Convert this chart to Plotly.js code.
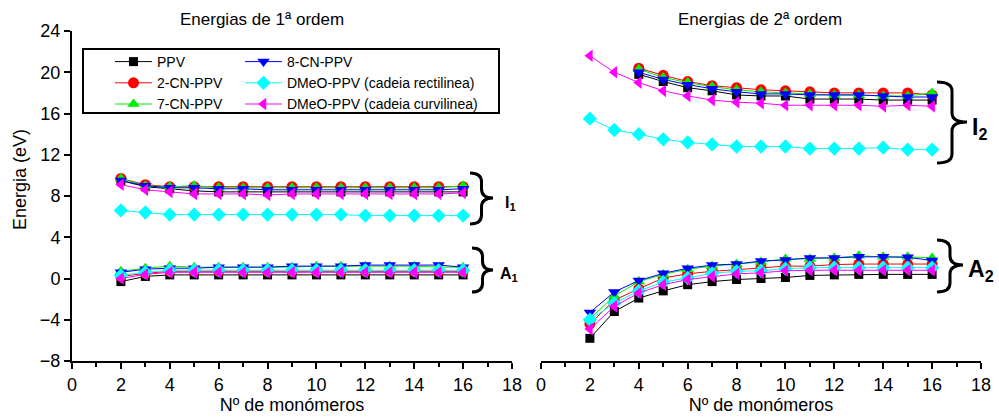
<!DOCTYPE html>
<html>
<head>
<meta charset="utf-8">
<script src="https://cdn.plot.ly/plotly-3.0.1.min.js"></script>
<style>html,body{margin:0;padding:0;background:#fff;}#chart{width:999px;height:417px;}</style>
</head>
<body>
<div id="chart"></div>
<script>
// ---- data ----
const monomers = [2,3,4,5,6,7,8,9,10,11,12,13,14,15,16];
const monomersFrom4 = [4,5,6,7,8,9,10,11,12,13,14,15,16];

const seriesNames = ["PPV","2-CN-PPV","7-CN-PPV","8-CN-PPV","DMeO-PPV (cadeia rectilinea)","DMeO-PPV (cadeia curvilinea)"];

// 1st order: ionization (I1) and affinity (A1)
const ppv_I1   = [9.5,8.9,8.7,8.5,8.4,8.4,8.4,8.4,8.4,8.4,8.4,8.4,8.4,8.4,8.4];
const cn2_I1   = [9.7,9.1,8.9,8.9,8.9,8.9,8.9,8.9,8.9,8.9,8.9,8.9,8.9,8.9,8.9];
const cn7_I1   = [9.7,9.0,8.9,9.0,8.8,8.8,8.8,8.8,8.8,8.8,8.8,8.8,8.8,8.8,9.0];
const cn8_I1   = [9.5,9.0,8.8,8.8,8.7,8.7,8.6,8.6,8.6,8.6,8.6,8.6,8.6,8.6,8.7];
const dmeoR_I1 = [6.6,6.4,6.2,6.2,6.2,6.2,6.2,6.2,6.2,6.2,6.1,6.1,6.1,6.1,6.1];
const dmeoC_I1 = [9.1,8.6,8.4,8.2,8.2,8.2,8.1,8.2,8.2,8.2,8.2,8.2,8.2,8.2,8.3];

const ppv_A1   = [-0.3,0.2,0.35,0.35,0.35,0.35,0.35,0.35,0.35,0.35,0.35,0.35,0.35,0.35,0.35];
const cn2_A1   = [0.2,0.5,0.7,0.7,0.7,0.7,0.7,0.7,0.7,0.7,0.7,0.7,0.7,0.7,0.7];
const cn7_A1   = [0.7,1.0,1.2,1.1,1.1,1.1,1.1,1.1,1.2,1.2,1.2,1.2,1.2,1.1,1.1];
const cn8_A1   = [0.6,0.9,1.0,1.0,1.1,1.1,1.1,1.2,1.2,1.2,1.3,1.3,1.3,1.3,1.1];
const dmeoR_A1 = [0.3,0.6,0.8,0.8,0.8,0.8,0.8,0.8,0.8,0.8,0.8,0.8,0.8,0.8,0.8];
const dmeoC_A1 = [0.0,0.4,0.6,0.6,0.6,0.6,0.6,0.6,0.6,0.6,0.6,0.6,0.6,0.6,0.6];

// 2nd order: I2 (PPV and CN series start at 4 monomers) and A2
const ppv_I2   = [19.8,19.1,18.5,18.2,17.8,17.7,17.7,17.4,17.4,17.4,17.3,17.3,17.3];
const cn2_I2   = [20.4,19.7,19.1,18.7,18.5,18.3,18.2,18.1,18.0,18.0,18.0,18.0,17.8];
const cn7_I2   = [20.3,19.5,19.0,18.6,18.3,18.1,18.0,17.9,17.8,17.8,17.7,17.7,18.0];
const cn8_I2   = [20.0,19.3,18.8,18.4,18.1,17.9,17.9,17.8,17.8,17.8,17.7,17.6,17.6];
const dmeoR_I2 = [15.5,14.4,14.0,13.5,13.2,13.0,12.8,12.8,12.8,12.6,12.6,12.6,12.7,12.5,12.5];
const dmeoC_I2 = [21.6,20.0,19.0,18.2,17.7,17.3,17.1,17.0,16.8,16.8,16.8,16.8,16.7,16.8,16.7];

const ppv_A2   = [-5.8,-3.2,-1.9,-1.2,-0.6,-0.3,-0.1,0.0,0.1,0.3,0.35,0.4,0.4,0.4,0.4];
const cn2_A2   = [-4.4,-2.1,-1.0,0.05,0.45,0.7,0.85,1.05,1.2,1.2,1.35,1.4,1.4,1.4,1.4];
const cn7_A2   = [-3.9,-1.7,-0.3,0.4,0.9,1.2,1.4,1.6,1.9,1.9,2.0,2.2,2.1,2.1,2.0];
const cn8_A2   = [-3.3,-1.3,-0.2,0.5,1.0,1.3,1.4,1.7,1.8,2.0,2.0,2.1,2.1,2.05,1.75];
const dmeoR_A2 = [-4.0,-2.4,-1.2,-0.35,0.05,0.5,0.7,0.75,0.95,1.05,1.05,1.05,1.05,1.05,1.05];
const dmeoC_A2 = [-4.9,-2.7,-1.4,-0.6,-0.1,0.2,0.45,0.55,0.75,0.8,0.8,0.8,0.8,0.8,0.8];

// ---- styling ----
const FONT = "Liberation Sans, Arial, Helvetica, sans-serif";
const colors  = ["#000000","#ff0000","#00ee00","#0000ff","#00ffff","#ff00ff"];
const symbols = ["square","circle","triangle-up","triangle-down","diamond","triangle-left"];
const msizes  = [9,11,11,11,11,11];
const legendOf = ["legend","legend","legend","legend2","legend2","legend2"];

const I1 = [ppv_I1,cn2_I1,cn7_I1,cn8_I1,dmeoR_I1,dmeoC_I1];
const A1 = [ppv_A1,cn2_A1,cn7_A1,cn8_A1,dmeoR_A1,dmeoC_A1];
const I2 = [ppv_I2,cn2_I2,cn7_I2,cn8_I2,dmeoR_I2,dmeoC_I2];
const A2 = [ppv_A2,cn2_A2,cn7_A2,cn8_A2,dmeoR_A2,dmeoC_A2];
const I2x = [monomersFrom4,monomersFrom4,monomersFrom4,monomersFrom4,monomers,monomers];

const traces = [];
function mk(i, x, y, xa, ya, show) {
  return {
    type: "scatter", mode: "lines+markers", x: x, y: y, xaxis: xa, yaxis: ya,
    name: seriesNames[i], legendgroup: seriesNames[i], showlegend: show, legend: legendOf[i],
    line: {color: colors[i], width: 1},
    marker: {symbol: symbols[i], size: msizes[i], color: colors[i], line: {width: 0}}
  };
}
for (let i = 0; i < 6; i++) {
  traces.push(mk(i, monomers, I1[i], "x", "y", true));
  traces.push(mk(i, monomers, A1[i], "x", "y", false));
  traces.push(mk(i, I2x[i], I2[i], "x2", "y2", false));
  traces.push(mk(i, monomers, A2[i], "x2", "y2", false));
}

// pixel -> paper helpers (plot area: x 72..981, y 31..361)
const L = 72, R = 18, T = 31, B = 56, W = 999, H = 417;
const PW = W - L - R, PH = H - T - B;
const px = v => (v - L) / PW;
const py = v => (H - B - v) / PH;

function brace(x0, yTop, yBot, xTip, ym) {
  const xa = x0 + 0.5 * (xTip - x0);
  const r = Math.min(9, (yBot - yTop) / 5);
  const P = (a, b) => px(a).toFixed(5) + "," + py(b).toFixed(5);
  const d = "M" + P(x0, yTop) +
    " Q" + P(xa, yTop) + " " + P(xa, yTop + r) +
    " L" + P(xa, ym - r) +
    " Q" + P(xa, ym) + " " + P(xTip, ym) +
    " Q" + P(xa, ym) + " " + P(xa, ym + r) +
    " L" + P(xa, yBot - r) +
    " Q" + P(xa, yBot) + " " + P(x0, yBot);
  return {type: "path", xref: "paper", yref: "paper", path: d, line: {color: "#000", width: 3}};
}

const axisCommon = {
  range: [0, 18], dtick: 2, tick0: 0, ticks: "outside", ticklen: 6, tickwidth: 2, tickcolor: "#000",
  minor: {dtick: 1, ticks: "outside", ticklen: 4, tickwidth: 2, tickcolor: "#000"},
  showline: true, linewidth: 2, linecolor: "#000", showgrid: false, zeroline: false,
  tickfont: {family: FONT, size: 18, color: "#000"},
  title: {text: "Nº de monómeros", font: {family: FONT, size: 18, color: "#000"}, standoff: 4}
};

const legendCommon = {
  xanchor: "left", yanchor: "top", orientation: "v", itemwidth: 37,
  bgcolor: "rgba(0,0,0,0)", borderwidth: 0, font: {family: FONT, size: 14, color: "#000"},
  tracegroupgap: 0
};

const layout = {
  width: W, height: H,
  margin: {l: L, r: R, t: T, b: B},
  paper_bgcolor: "#fff", plot_bgcolor: "rgba(0,0,0,0)",
  font: {family: FONT, color: "#000"},
  xaxis: Object.assign({}, axisCommon, {domain: [0, px(512)], anchor: "y"}),
  xaxis2: Object.assign({}, axisCommon, {domain: [px(541), 1], anchor: "y2"}),
  yaxis: {
    range: [-8, 24], dtick: 4, tick0: 0, ticks: "outside", ticklen: 6, tickwidth: 2, tickcolor: "#000",
    showline: true, linewidth: 2, linecolor: "#000", showgrid: false, zeroline: false,
    tickfont: {family: FONT, size: 18, color: "#000"}, anchor: "x"
  },
  yaxis2: {range: [-8, 24], visible: false, anchor: "x2"},
  legend: Object.assign({}, legendCommon, {x: px(110), y: py(46)}),
  legend2: Object.assign({}, legendCommon, {x: px(240), y: py(46)}),
  shapes: [
    {type: "rect", xref: "paper", yref: "paper", x0: px(83), x1: px(499), y0: py(113), y1: py(49),
     line: {color: "#000", width: 2}, fillcolor: "rgba(0,0,0,0)"},
    brace(470, 173, 224, 493, 198),
    brace(472, 248, 292, 493, 270),
    brace(937, 82, 163, 967, 122),
    brace(937, 240, 292, 963, 265)
  ],
  annotations: [
    {text: "Energias de 1ª ordem", xref: "paper", yref: "paper", x: px(262), y: py(20),
     xanchor: "center", yanchor: "middle", showarrow: false, font: {family: FONT, size: 17, color: "#000"}},
    {text: "Energias de 2ª ordem", xref: "paper", yref: "paper", x: px(760), y: py(20),
     xanchor: "center", yanchor: "middle", showarrow: false, font: {family: FONT, size: 17, color: "#000"}},
    {text: "Energia (eV)", xref: "paper", yref: "paper", x: px(20), y: py(180), textangle: -90,
     xanchor: "center", yanchor: "middle", showarrow: false, font: {family: FONT, size: 18, color: "#000"}},
    {text: "<b>I<sub>1</sub></b>", xref: "paper", yref: "paper", x: px(503), y: py(203),
     xanchor: "left", yanchor: "middle", showarrow: false, font: {family: FONT, size: 16, color: "#000"}},
    {text: "<b>A<sub>1</sub></b>", xref: "paper", yref: "paper", x: px(498), y: py(274),
     xanchor: "left", yanchor: "middle", showarrow: false, font: {family: FONT, size: 16, color: "#000"}},
    {text: "<b>I<sub>2</sub></b>", xref: "paper", yref: "paper", x: px(970), y: py(128),
     xanchor: "left", yanchor: "middle", showarrow: false, font: {family: FONT, size: 23, color: "#000"}},
    {text: "<b>A<sub>2</sub></b>", xref: "paper", yref: "paper", x: px(966), y: py(270),
     xanchor: "left", yanchor: "middle", showarrow: false, font: {family: FONT, size: 23, color: "#000"}}
  ]
};

Plotly.newPlot("chart", traces, layout, {displayModeBar: false, staticPlot: true});
</script>
</body>
</html>
